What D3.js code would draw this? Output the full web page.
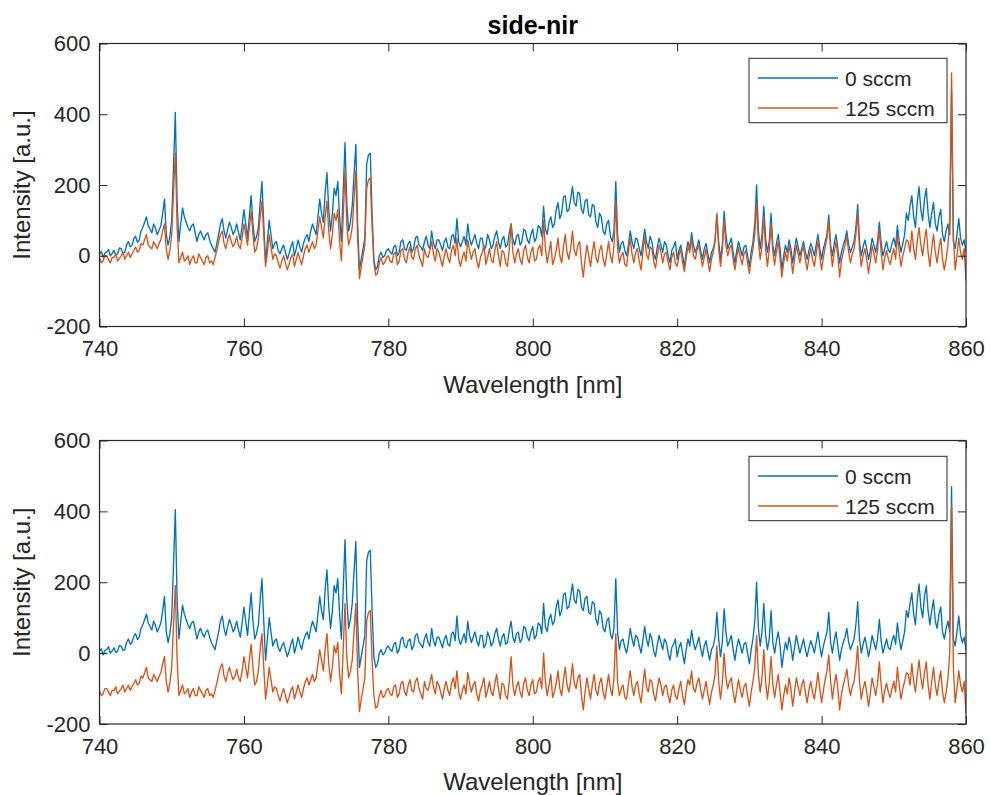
<!DOCTYPE html>
<html>
<head>
<meta charset="utf-8">
<script src="https://cdn.jsdelivr.net/npm/d3@7"></script>
<style>
  html, body { margin: 0; padding: 0; background: #fff; }
  svg { display: block; font-family: "Liberation Sans", Arial, Helvetica, sans-serif; }
</style>
</head>
<body>
<svg id="chart" width="990" height="795"></svg>
<script>
// ---------------- DATA ----------------
const chartTitle = "side-nir";
const seriesNames = ["0 sccm", "125 sccm"];
const xTicks = [740, 760, 780, 800, 820, 840, 860];
const yTicks = [-200, 0, 200, 400, 600];
// wavelength grid, 740 … 860 nm every 0.25 nm
const wavelength = d3.range(481).map(i => 740 + i * 0.25);

// 0 sccm (same measurement in both panels); one row = 5 nm
const blue0sccm = [
  5,12,-5,8,10,18,0,6,15,2,5,22,20,8,10,30,40,25,30,48,
  55,38,45,70,80,95,110,85,75,65,90,78,60,72,85,120,160,60,30,55,
  100,250,405,150,40,90,135,110,95,80,70,85,90,65,40,60,70,55,45,60,
  65,45,30,20,10,35,60,90,105,70,50,75,95,80,60,70,90,65,45,85,
  130,90,50,110,170,90,40,55,80,150,210,90,-20,40,100,60,20,35,40,15,
  5,20,30,10,-10,5,25,40,0,20,45,25,10,35,50,60,40,70,90,75,
  60,110,160,120,95,180,235,130,70,120,190,170,210,110,40,180,320,150,70,95,
  140,230,315,90,-40,-10,20,50,260,285,290,120,-10,-40,-30,0,10,-5,0,15,
  20,10,5,25,30,0,10,40,45,20,15,35,40,10,20,50,55,30,25,15,
  40,55,30,20,70,35,20,45,45,30,15,40,50,25,20,55,60,35,105,40,
  25,40,55,30,90,50,30,45,60,35,20,50,50,15,25,60,45,20,30,55,
  70,40,20,45,55,25,30,65,90,45,30,55,60,30,40,75,70,45,35,60,
  75,40,50,85,80,55,140,75,60,95,110,80,90,130,150,105,120,165,170,125,
  130,160,195,150,140,180,175,130,120,155,160,115,110,145,140,95,80,120,110,70,
  60,90,100,55,40,70,210,60,10,35,40,15,0,30,70,40,20,50,45,20,
  0,35,75,40,20,55,40,5,-10,25,50,30,10,40,30,0,-20,15,25,40,
  -10,15,30,0,-30,10,40,20,65,30,10,25,45,15,-10,20,35,5,-20,10,
  20,45,115,40,-10,30,125,60,20,35,50,10,-20,15,40,20,0,25,30,0,
  -30,10,40,90,200,70,20,60,140,50,10,40,120,30,0,35,60,20,-40,0,
  30,10,45,20,-20,15,50,25,0,20,40,10,-10,15,35,20,0,30,60,20,
  -10,20,40,60,115,30,0,35,60,20,-20,10,30,45,70,30,10,25,40,80,
  145,40,0,25,45,20,-10,15,50,30,10,40,95,35,0,20,40,15,10,35,
  50,25,85,40,10,35,60,120,100,140,170,110,80,150,195,130,100,160,190,120,
  80,120,150,90,70,110,130,60,40,70,90,60,470,40,20,60,105,50,30,45,
  10
];

// 125 sccm, upper panel
const orange125Top = [
  -5,-20,-15,0,0,-10,-20,-5,-5,5,-15,-8,0,10,-10,0,10,-5,5,15,
  25,10,15,35,30,45,60,30,25,20,40,30,20,35,45,70,90,20,-10,15,
  60,180,290,80,-20,-5,10,-15,-10,0,-25,-10,0,-20,-20,5,-5,-15,-25,-5,
  0,-20,-15,-25,-5,15,40,60,70,35,20,45,60,40,25,35,55,30,20,50,
  90,60,30,80,125,60,10,20,50,110,155,60,-30,10,60,25,-10,5,0,-20,
  -35,-15,0,-20,-40,-25,-5,5,-30,-10,10,-10,-25,0,20,30,10,25,40,20,
  30,70,110,80,50,110,155,70,20,60,120,100,130,40,-15,110,240,90,30,50,
  80,160,240,50,-65,-30,0,30,190,215,220,80,-20,-55,-50,-20,-5,-25,-20,-5,
  0,-15,-20,5,10,-25,-15,15,20,-10,-20,10,25,-5,-10,20,30,0,-15,-30,
  20,0,-5,15,40,5,-15,20,10,-10,-30,0,20,-5,-20,15,30,0,50,-10,
  -30,-5,10,-15,45,15,-10,10,20,-15,-35,-5,10,30,-25,-5,20,-10,-20,15,
  40,0,-30,15,10,-20,-30,20,90,10,-20,5,20,-10,-25,15,30,-5,-20,10,
  25,-15,-10,20,30,0,100,20,-20,10,40,-25,-10,15,50,0,-20,25,60,10,
  -10,20,70,15,0,30,40,-20,-60,-10,30,0,-30,10,40,-5,-20,15,30,-10,
  -30,5,40,0,-20,30,155,20,-20,0,10,-25,-30,15,50,5,-20,10,20,-15,
  -40,10,55,5,-10,25,20,-15,-35,0,30,10,-20,5,10,-20,-40,-5,10,-20,
  -30,0,20,-20,-45,-5,25,10,50,0,-10,15,30,0,-30,-5,20,-15,-45,-10,
  10,40,120,20,-30,15,100,30,0,20,30,-10,-40,-5,25,-5,-25,5,15,-20,
  -50,-10,20,60,150,40,-10,30,110,20,-30,15,90,10,-25,10,40,-10,-60,-20,
  10,-15,30,0,-50,-10,30,5,-20,10,25,-10,-40,-5,20,-10,-30,5,45,0,
  -40,-5,25,50,95,20,-30,10,40,0,-60,-15,10,30,55,10,-20,5,20,60,
  120,20,-30,0,20,-10,-50,-15,30,5,-20,15,75,10,-40,-5,15,-10,-25,0,
  20,-10,60,10,-30,0,20,45,40,10,70,20,-10,40,80,30,0,45,75,10,
  -30,20,60,10,-20,20,50,-10,-40,-10,30,100,517,60,-40,0,50,10,-10,20,
  -70
];

// 125 sccm, lower panel
const orange125Bottom = [
  -105,-120,-115,-100,-100,-110,-120,-105,-105,-95,-115,-108,-100,-90,-110,-100,-90,-105,-95,-85,
  -75,-90,-85,-65,-70,-55,-40,-70,-75,-80,-60,-70,-80,-65,-55,-30,-10,-80,-110,-85,
  -40,80,190,-20,-120,-105,-90,-115,-110,-100,-125,-110,-100,-120,-120,-95,-105,-115,-125,-105,
  -100,-120,-115,-125,-105,-85,-60,-40,-30,-65,-80,-55,-40,-60,-75,-65,-45,-70,-80,-50,
  -10,-40,-70,-20,25,-40,-90,-80,-50,10,55,-40,-130,-90,-40,-75,-110,-95,-100,-120,
  -135,-115,-100,-120,-140,-125,-105,-95,-130,-110,-90,-110,-125,-100,-80,-70,-90,-75,-60,-80,
  -70,-30,10,-20,-50,10,55,-30,-80,-40,20,0,30,-60,-115,10,140,-10,-70,-50,
  -20,60,140,-50,-165,-130,-100,-70,90,115,120,-20,-120,-155,-150,-120,-105,-125,-120,-105,
  -100,-115,-120,-95,-90,-125,-115,-85,-80,-110,-120,-90,-75,-105,-110,-80,-70,-100,-115,-130,
  -80,-100,-105,-85,-60,-95,-115,-80,-90,-110,-130,-100,-80,-105,-120,-85,-70,-100,-50,-110,
  -130,-105,-90,-115,-55,-85,-110,-90,-80,-115,-135,-105,-90,-70,-125,-105,-80,-110,-120,-85,
  -60,-100,-130,-85,-90,-120,-130,-80,-10,-90,-120,-95,-80,-110,-125,-85,-70,-105,-120,-90,
  -75,-115,-110,-80,-70,-100,0,-80,-120,-90,-60,-125,-110,-85,-50,-100,-120,-75,-40,-90,
  -110,-80,-30,-85,-100,-70,-60,-120,-160,-110,-70,-100,-130,-90,-60,-105,-120,-85,-70,-110,
  -130,-95,-60,-100,-120,-70,55,-80,-120,-100,-90,-125,-130,-85,-50,-95,-120,-90,-80,-115,
  -140,-90,-45,-95,-110,-75,-80,-115,-135,-100,-70,-90,-120,-95,-90,-120,-140,-105,-90,-120,
  -130,-100,-80,-120,-145,-105,-75,-90,-50,-100,-110,-85,-70,-100,-130,-105,-80,-115,-145,-110,
  -90,-60,20,-80,-130,-85,0,-70,-100,-80,-70,-110,-140,-105,-75,-105,-125,-95,-85,-120,
  -150,-110,-80,-40,50,-60,-110,-70,10,-80,-130,-85,-10,-90,-125,-90,-60,-110,-160,-120,
  -90,-115,-70,-100,-150,-110,-70,-95,-120,-90,-75,-110,-140,-105,-80,-110,-130,-95,-55,-100,
  -140,-105,-75,-50,-5,-80,-130,-90,-60,-100,-160,-115,-90,-70,-45,-90,-120,-95,-80,-40,
  20,-80,-130,-100,-80,-110,-150,-115,-70,-95,-120,-85,-25,-90,-140,-105,-85,-110,-125,-100,
  -80,-110,-40,-90,-130,-100,-80,-55,-60,-90,-30,-80,-110,-60,-20,-70,-100,-55,-25,-90,
  -130,-80,-40,-90,-120,-80,-50,-110,-140,-110,-70,0,417,-40,-140,-100,-50,-90,-110,-80,
  -170
];

const colors = ["#0072BD", "#D95319"];

// ---------------- DRAW ----------------
const svg = d3.select("#chart");
const axisColor = "#262626";
const left = 99.5, right = 966;
const fontFam = '"Liberation Sans", Arial, Helvetica, sans-serif';

const panels = [
  { top: 43.5, bottom: 326.5, series: [blue0sccm, orange125Top] },
  { top: 440.5, bottom: 724, series: [blue0sccm, orange125Bottom] }
];

const x = d3.scaleLinear().domain([740, 860]).range([left, right]);
const fmt = d => String(d);

panels.forEach((p, pi) => {
  const y = d3.scaleLinear().domain([-200, 600]).range([p.bottom, p.top]);
  const g = svg.append("g");

  const clipId = "clip" + pi;
  svg.append("clipPath").attr("id", clipId)
    .append("rect").attr("x", left).attr("y", p.top)
    .attr("width", right - left).attr("height", p.bottom - p.top);

  const line = d3.line()
    .x((d, i) => x(wavelength[i])).y(d => y(d));

  p.series.forEach((s, si) => {
    g.append("path")
      .datum(s)
      .attr("clip-path", `url(#${clipId})`)
      .attr("fill", "none")
      .attr("stroke", colors[si])
      .attr("stroke-width", 1.35)
      .attr("stroke-linejoin", "round")
      .attr("d", line);
  });

  // axes
  const styleAxis = sel => {
    sel.select(".domain").remove();
    sel.selectAll(".tick line").attr("stroke", axisColor).attr("stroke-width", 1);
    sel.selectAll(".tick text").attr("fill", axisColor).style("font-size", "22px")
      .style("font-family", fontFam);
  };
  g.append("g").attr("transform", `translate(0,${p.bottom})`)
    .call(d3.axisBottom(x).tickValues(xTicks).tickFormat(fmt).tickSize(-8).tickPadding(14))
    .call(styleAxis);
  g.append("g").attr("transform", `translate(0,${p.top})`)
    .call(d3.axisTop(x).tickValues(xTicks).tickFormat("").tickSize(-8))
    .call(styleAxis);
  g.append("g").attr("transform", `translate(${left},0)`)
    .call(d3.axisLeft(y).tickValues(yTicks).tickFormat(fmt).tickSize(-8).tickPadding(9))
    .call(styleAxis);
  g.append("g").attr("transform", `translate(${right},0)`)
    .call(d3.axisRight(y).tickValues(yTicks).tickFormat("").tickSize(-8))
    .call(styleAxis);

  g.append("rect")
    .attr("x", left).attr("y", p.top)
    .attr("width", right - left).attr("height", p.bottom - p.top)
    .attr("fill", "none").attr("stroke", axisColor).attr("stroke-width", 1.2);

  // labels
  g.append("text")
    .attr("x", (left + right) / 2).attr("y", p.bottom + 66)
    .attr("text-anchor", "middle").attr("fill", axisColor)
    .style("font-size", "24px").text("Wavelength [nm]");
  g.append("text")
    .attr("transform", `translate(30,${(p.top + p.bottom) / 2}) rotate(-90)`)
    .attr("text-anchor", "middle").attr("fill", axisColor)
    .style("font-size", "24px").text("Intensity [a.u.]");

  // legend
  const lx = 749, ly = p.top + 14.8 + (pi === 1 ? 1 : 0);
  const lg = g.append("g");
  lg.append("rect").attr("x", lx).attr("y", ly).attr("width", 198).attr("height", 64.4)
    .attr("fill", "#fff").attr("stroke", axisColor).attr("stroke-width", 1);
  seriesNames.forEach((name, si) => {
    const yy = ly + 19.7 + si * 30;
    lg.append("line").attr("x1", lx + 9).attr("x2", lx + 89).attr("y1", yy).attr("y2", yy)
      .attr("stroke", colors[si]).attr("stroke-width", 1.3);
    lg.append("text").attr("x", lx + 96).attr("y", yy + 7.5)
      .attr("fill", axisColor).style("font-size", "21px").text(name);
  });
});

svg.append("text")
  .attr("x", (left + right) / 2).attr("y", 34)
  .attr("text-anchor", "middle").attr("fill", "#000")
  .style("font-size", "25px").style("font-weight", "bold")
  .text(chartTitle);
</script>
</body>
</html>
